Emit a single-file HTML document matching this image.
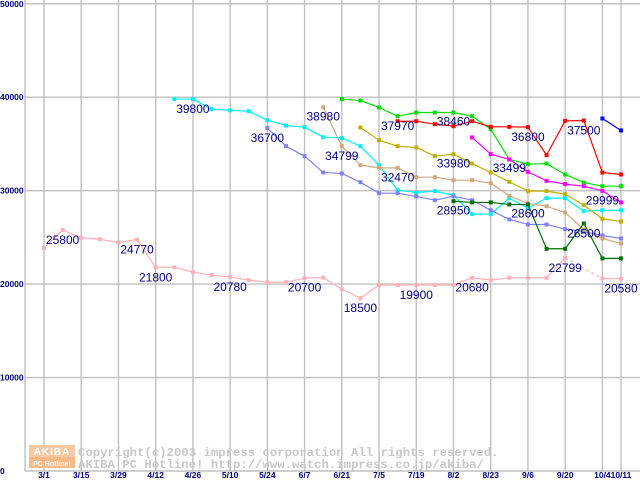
<!DOCTYPE html>
<html><head><meta charset="utf-8"><style>
html,body{margin:0;padding:0;background:#fff;}
svg{display:block;}
.lbl{font-family:"Liberation Sans",sans-serif;font-size:12px;fill:#000080;}
.tick{font-family:"Liberation Sans",sans-serif;font-size:8.5px;font-weight:bold;fill:#000080;}
.wm{font-family:"Liberation Mono",monospace;font-size:12.3px;fill:#c8c8c8;font-weight:bold;}
</style></head><body>
<svg id="chart" width="640" height="480" viewBox="0 0 640 480" xmlns="http://www.w3.org/2000/svg">
<g id="grid"></g>
<g id="watermark">
<rect x="29" y="445" width="46" height="12" fill="#f8c8a0"/>
<rect x="29" y="457" width="46" height="11" fill="#f8b888"/>
<text x="52" y="455" text-anchor="middle" style="font-family:'Liberation Sans',sans-serif;font-size:10px;font-weight:bold;fill:#fff;letter-spacing:1px">AKIBA</text>
<text x="52" y="466" text-anchor="middle" style="font-family:'Liberation Sans',sans-serif;font-size:7px;font-weight:bold;fill:#fff">PC Hotline!</text>
<text class="wm" x="78" y="456">Copyright(c)2003 impress corporation All rights reserved.</text>
<text class="wm" x="78" y="468">AKIBA PC Hotline!  http://www.watch.impress.co.jp/akiba/</text>
</g>
<g id="series"></g>
<g id="labels"></g>
<g id="axes"></g>
</svg>
<script>
const xTickLabels = ["3/1","3/15","3/29","4/12","4/26","5/10","5/24","6/7","6/21","7/5","7/19","8/2","8/23","9/6","9/20","10/4","10/11"];
const xTickIndex = [0,2,4,6,8,10,12,14,16,18,20,22,24,26,28,30,31];
const yTicks = [0,10000,20000,30000,40000,50000];
const N = null;
const pinkVals = [23850,25800,24950,24800,24460,24770,21800,21800,21280,20960,20780,20420,20200,20200,20650,20700,19460,18500,19900,19900,19900,19900,19900,20680,20430,20680,20680,20680,22799,N,20600,20580];
const cyanVals = [N,N,N,N,N,N,N,39800,39800,38720,38600,38500,37540,36970,36790,35720,35650,34760,32730,30050,29800,29950,29520,27490,27490,29200,28130,29200,29200,27800,27900,27900];
const lavenderVals = [N,N,N,N,N,N,N,N,N,N,N,N,36700,34760,33690,31950,31840,30900,29730,29730,29380,28980,29410,28980,27910,26920,26380,26380,25880,25600,25200,24880];
const tanVals = [N,N,N,N,N,N,N,N,N,N,N,N,N,N,N,38930,34760,32730,32440,32440,31440,31440,31120,31120,30800,29450,28630,28340,27660,25850,24880,24350];
const oliveVals = [N,N,N,N,N,N,N,N,N,N,N,N,N,N,N,N,N,36760,35400,34760,34620,33690,33900,32900,31940,30940,29950,29950,29630,28450,26990,26700];
const greenVals = [N,N,N,N,N,N,N,N,N,N,N,N,N,N,N,N,39800,39640,38900,37970,38360,38360,38360,37970,36580,33340,32830,32900,31730,30870,30480,30480];
const redVals = [N,N,N,N,N,N,N,N,N,N,N,N,N,N,N,N,N,N,N,37430,37430,37110,36900,37430,36830,36830,36800,33800,37470,37500,31940,31730];
const magentaVals = [N,N,N,N,N,N,N,N,N,N,N,N,N,N,N,N,N,N,N,N,N,N,N,35690,33900,33340,32010,31050,30700,30480,29980,28740];
const darkGreenVals = [N,N,N,N,N,N,N,N,N,N,N,N,N,N,N,N,N,N,N,N,N,N,28880,28740,28740,28520,28520,23780,23780,26490,22750,22750];
const blueVals = [N,N,N,N,N,N,N,N,N,N,N,N,N,N,N,N,N,N,N,N,N,N,N,N,N,N,N,N,N,N,37720,36440];
const labelTexts = ["25800","24770","21800","20780","20700","18500","19900","20680","22799","20580","39800","36700","38980","34799","37970","38460","32470","33980","36800","37500","33499","28950","28600","29999","26500"];
const labelIndex = [1,5,6,10,14,17,20,23,28,31,8,12,15,16,19,22,19,22,26,29,25,22,26,30,29];

const NS="http://www.w3.org/2000/svg";
function xS(i){return 44 + i*18.613;}
function yS(v){return 471 - v*0.009345;}
function mk(tag,attrs,parent){const e=document.createElementNS(NS,tag);for(const k in attrs)e.setAttribute(k,attrs[k]);parent.appendChild(e);return e;}
const grid=document.getElementById('grid'),axes=document.getElementById('axes'),ser=document.getElementById('series'),lab=document.getElementById('labels');
yTicks.forEach(v=>{
  const l=mk('line',{x1:25,x2:640,y1:yS(v),y2:yS(v),stroke:'#c0c0c0','stroke-width':1.4},grid);
  
  
  const t=mk('text',{x:0,y:yS(v)+3,class:'tick'},axes);
  
  
  t.textContent=String(v);
});
xTickIndex.forEach((ix,k)=>{
  const l=mk('line',{x1:xS(ix),x2:xS(ix),y1:0,y2:471,stroke:'#c0c0c0','stroke-width':1.4},grid);
  
  
  const t=mk('text',{x:xS(ix),y:478,class:'tick','text-anchor':'middle'},axes);
  
  
  t.textContent=xTickLabels[k];
});
const ax=mk('line',{x1:25,x2:25,y1:0,y2:471,stroke:'#c0c0c0','stroke-width':1.4},grid);


const seriesList=[[pinkVals,'#ffb0b8','pink'],[cyanVals,'#00f0f0','cyan'],[lavenderVals,'#8080ff','lavender'],[tanVals,'#d0a880','tan'],[oliveVals,'#c0b000','olive'],[greenVals,'#00e000','green'],[redVals,'#ff0000','red'],[magentaVals,'#ff00ff','magenta'],[darkGreenVals,'#007000','dark-green'],[blueVals,'#0000ff','blue']];
seriesList.forEach(([vals,col,nm])=>{
  const g=mk('g',{},ser);
  
  
  let prev=-1;
  for(let i=0;i<vals.length;i++){
    if(vals[i]===null)continue;
    if(prev>=0){
      const attrs={x1:xS(prev),y1:yS(vals[prev]),x2:xS(i),y2:yS(vals[i]),stroke:col,'stroke-width':1.2};
      if(i-prev>1)attrs['stroke-dasharray']='3,3';
      const l=mk('line',attrs,g);
      
      
    }
    prev=i;
  }
  for(let i=0;i<vals.length;i++){
    if(vals[i]===null)continue;
    const r=mk('rect',{x:xS(i)-2,y:yS(vals[i])-2,width:4,height:4,fill:col},g);
    
    
  }
});
labelTexts.forEach((t,k)=>{
  const e=mk('text',{x:xS(labelIndex[k]),y:yS(Number(t))+14,class:'lbl','text-anchor':'middle'},lab);
  
  
  e.textContent=t;
});
</script>
</body></html>
